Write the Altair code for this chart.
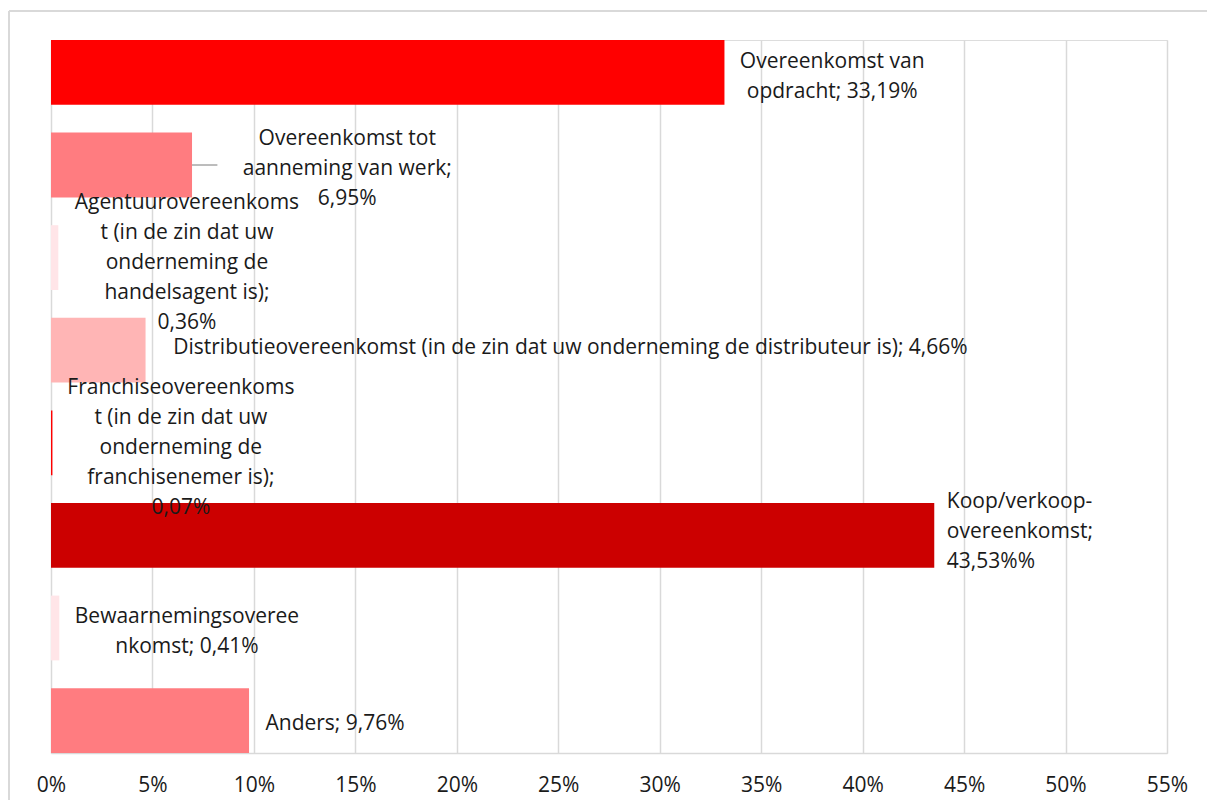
import altair as alt
import pandas as pd

categories = [
    "Overeenkomst van opdracht",
    "Overeenkomst tot aanneming van werk",
    "Agentuurovereenkomst",
    "Distributieovereenkomst",
    "Franchiseovereenkomst",
    "Koop/verkoop-overeenkomst",
    "Bewaarnemingsovereenkomst",
    "Anders",
]
values = [33.19, 6.95, 0.36, 4.66, 0.07, 43.53, 0.41, 9.76]
colors = ["#FF0000", "#FF7C80", "#FFE5E8", "#FFB5B5", "#FF0000", "#CC0000", "#FFE5E8", "#FF7C80"]
label_lines = [
    ["Overeenkomst van", "opdracht; 33,19%"],
    ["Overeenkomst tot", "aanneming van werk;", "6,95%"],
    ["Agentuurovereenkoms", "t (in de zin dat uw", "onderneming de", "handelsagent is);", "0,36%"],
    ["Distributieovereenkomst (in de zin dat uw onderneming de distributeur is); 4,66%"],
    ["Franchiseovereenkoms", "t (in de zin dat uw", "onderneming de", "franchisenemer is);", "0,07%"],
    ["Koop/verkoop-", "overeenkomst;", "43,53%%"],
    ["Bewaarnemingsoveree", "nkomst; 0,41%"],
    ["Anders; 9,76%"],
]
# label anchor positions (in % units of the x axis), alignment and vertical nudge (px)
label_x = [38.5, 14.6, 6.7, 25.6, 6.4, 44.15, 6.7, 14.0]
label_align = ["center", "center", "center", "center", "center", "left", "center", "center"]
label_dy = [5, 4, 5, -2, 5, -3, 4, 3]
tick_values = [0, 5, 10, 15, 20, 25, 30, 35, 40, 45, 50, 55]

# leader line for the second label
leader_cat = ["Overeenkomst tot aanneming van werk"]
leader_from = [6.95]
leader_to = [8.2]

FONT = "Open Sans"
FS = 21
LH = 30
TXT = "#1a1a1a"
GRID = "#d9d9d9"

W, H = 1116, 713
PAD = {"left": 43, "top": 32, "right": 40, "bottom": 47}

df = pd.DataFrame({
    "category": categories,
    "value": values,
    "color": colors,
    "lines": label_lines,
    "label_x": label_x,
    "align": label_align,
    "dy": label_dy,
})

yenc = alt.Y(
    "category:N",
    sort=categories,
    scale=alt.Scale(domain=categories, paddingInner=0.3, paddingOuter=0),
    axis=None,
)

base = alt.Chart(df)

bars = base.mark_bar().encode(
    x=alt.X(
        "value:Q",
        scale=alt.Scale(domain=[0, 55], nice=False, zero=True),
        axis=alt.Axis(
            values=tick_values,
            labelExpr="datum.value + '%'",
            grid=True,
            gridColor=GRID,
            gridWidth=1.5,
            domainColor=GRID,
            domainWidth=1.5,
            ticks=False,
            labelFont=FONT,
            labelFontSize=FS,
            labelColor=TXT,
            labelPadding=21,
            labelFlush=False,
            labelOverlap=False,
            title=None,
        ),
    ),
    y=yenc,
    color=alt.Color("color:N", scale=None),
)


def label_layer(al):
    return base.transform_filter(alt.datum.align == al).transform_calculate(
        yoff=f"datum.dy + 32.4 - (length(datum.lines) - 1) * {LH / 2}"
    ).mark_text(
        align=al, baseline="middle", font=FONT, fontSize=FS, lineHeight=LH, color=TXT
    ).encode(
        x=alt.X("label_x:Q"),
        y=yenc,
        yOffset=alt.YOffset("yoff:Q", scale=None),
        text=alt.Text("lines"),
    )


labels_c = label_layer("center")
labels_l = label_layer("left")

leader = alt.Chart(pd.DataFrame({"category": leader_cat, "x": leader_from, "x2": leader_to})).mark_rule(
    color="#A6A6A6", strokeWidth=1.5
).encode(x="x:Q", x2="x2:Q", y=yenc)

dummy = pd.DataFrame({"a": [0]})
border_top = alt.Chart(dummy).mark_rule(color=GRID, strokeWidth=2).encode(
    x=alt.value(-42), x2=alt.value(W + PAD["right"]), y=alt.value(-29)
)
border_left = alt.Chart(dummy).mark_rule(color=GRID, strokeWidth=2).encode(
    x=alt.value(-42), y=alt.value(-29), y2=alt.value(H + PAD["bottom"])
)

chart = alt.layer(border_top, border_left, bars, leader, labels_c, labels_l).properties(
    width=W,
    height=H,
    padding=PAD,
    autosize=alt.AutoSizeParams(type="none"),
).configure_view(stroke=GRID, strokeWidth=1.5).configure(background="white")

chart.save("out.html", embed_options={"renderer": "svg", "actions": False})
